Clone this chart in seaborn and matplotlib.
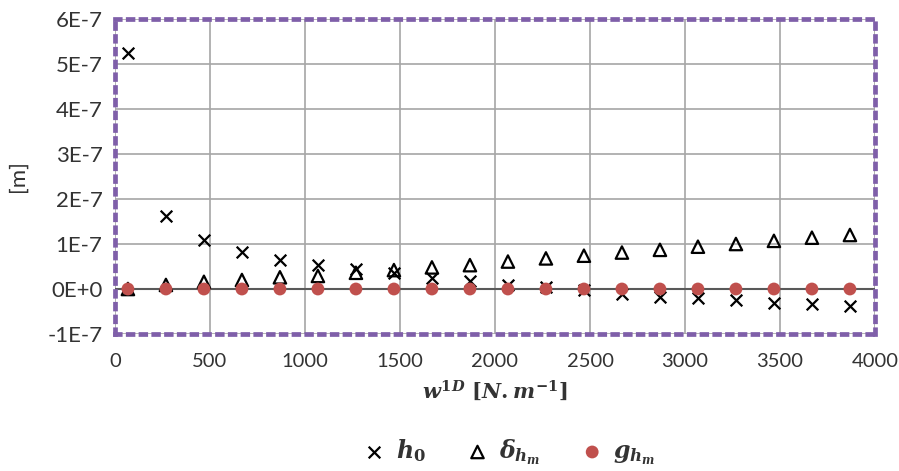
import numpy as np
import pandas as pd
import seaborn as sns
import matplotlib.pyplot as plt

# datos
w1d = [68, 268, 468, 668, 868, 1068, 1268, 1468, 1668, 1868,
       2068, 2268, 2468, 2668, 2868, 3068, 3268, 3468, 3668, 3868]
h0 = [5.24, 1.62, 1.09, 0.83, 0.64, 0.53, 0.44, 0.35, 0.24, 0.18,
      0.10, 0.04, -0.02, -0.10, -0.17, -0.21, -0.24, -0.30, -0.33, -0.38]
delta_hm = [0.0, 0.09, 0.16, 0.20, 0.26, 0.29, 0.36, 0.42, 0.48, 0.53,
            0.61, 0.68, 0.74, 0.81, 0.87, 0.94, 1.00, 1.07, 1.14, 1.20]
g_hm = [0.0] * 20

yticks = [-1e-7, 0, 1e-7, 2e-7, 3e-7, 4e-7, 5e-7, 6e-7]
ytick_labels = ['-1E-7', '0E+0', '1E-7', '2E-7', '3E-7', '4E-7', '5E-7', '6E-7']
xticks = [0, 500, 1000, 1500, 2000, 2500, 3000, 3500, 4000]

df = pd.DataFrame({'w': w1d,
                   'h0': np.array(h0) * 1e-7,
                   'delta': np.array(delta_hm) * 1e-7,
                   'g': np.array(g_hm) * 1e-7})

sns.set_style('white')
plt.rcParams['font.family'] = ['Lato', 'DejaVu Sans']
plt.rcParams['mathtext.fontset'] = 'custom'
plt.rcParams['mathtext.it'] = 'DejaVu Serif:italic:bold'
plt.rcParams['mathtext.rm'] = 'DejaVu Serif:bold'
plt.rcParams['mathtext.bf'] = 'DejaVu Serif:bold'

text_color = '#333333'
fig = plt.figure(figsize=(8.99, 4.71), dpi=100)
ax = fig.add_axes([115 / 899, 1 - 334 / 471, 760 / 899, 315 / 471])

# lineas de la cuadricula y del cero
ax.set_axisbelow(True)
ax.grid(True, color='#a6a6a6', linewidth=1.2)
ax.axhline(0, color='#595959', linewidth=1.5, zorder=1)

sns.scatterplot(data=df, x='w', y='h0', marker='x', color='black',
                s=70, linewidth=1.6, ax=ax, label=r'$h_0$', zorder=3)
sns.scatterplot(data=df, x='w', y='delta', marker='^', facecolors='none',
                edgecolors='black', s=80, linewidth=1.6, ax=ax,
                label=r'$\delta_{h_m}$', zorder=3)
sns.scatterplot(data=df, x='w', y='g', marker='o', color='#c0504d',
                edgecolor='none', s=85, ax=ax, label=r'$g_{h_m}$', zorder=4)

ax.set_xlim(0, 4000)
ax.set_ylim(-1e-7, 6e-7)
ax.set_xticks(xticks)
ax.set_yticks(yticks)
ax.set_yticklabels(ytick_labels)
ax.tick_params(axis='both', length=0, colors=text_color)
ax.tick_params(axis='x', pad=14, labelsize=14.5)
ax.tick_params(axis='y', pad=9, labelsize=16)

# borde punteado morado
for spine in ax.spines.values():
    spine.set_visible(True)
    spine.set_color('#7f5fa9')
    spine.set_linewidth(3.4)
    spine.set_linestyle((0, (1, 1.7)))

ax.set_xlabel(r'$w^{1D}\ [N.m^{-1}]$', fontsize=15, color=text_color, labelpad=6)
ax.set_ylabel('[m]', fontsize=16, color=text_color, labelpad=14)

ax.legend_.remove()
handles, labels = ax.get_legend_handles_labels()
fig.legend(handles, labels, loc='center', bbox_to_anchor=(0.565, 1 - 452 / 471),
           ncol=3, frameon=False, fontsize=17, columnspacing=1.6,
           handletextpad=0.3, handlelength=1.2, labelcolor=text_color)

plt.savefig('out.png', dpi=100)
plt.close()
